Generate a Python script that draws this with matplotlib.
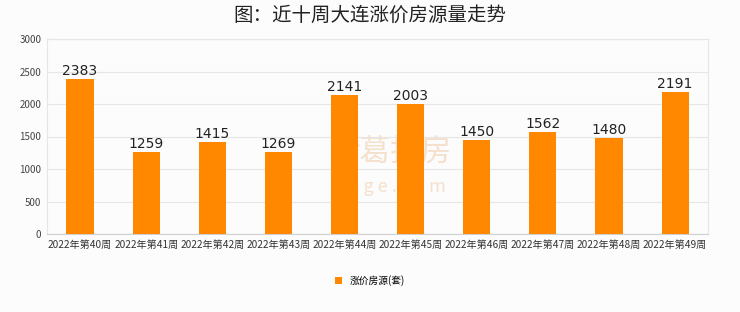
import matplotlib.pyplot as plt
import numpy as np

plt.rcParams['font.family'] = ['Noto Sans CJK SC', 'DejaVu Sans']

weeks = [f"2022年第{w}周" for w in range(40, 50)]
counts = [2383, 1259, 1415, 1269, 2141, 2003, 1450, 1562, 1480, 2191]
yticks = [0, 500, 1000, 1500, 2000, 2500, 3000]

bg = "#fcfcfc"
fig = plt.figure(figsize=(7.4, 3.12), dpi=100, facecolor=bg)
ax = fig.add_axes([0.0635, 0.25, 0.8935, 0.625], facecolor=bg)

x = np.arange(len(weeks))
ax.bar(x, counts, width=0.41, color="#ff8800", label="涨价房源(套)", zorder=3)
for xi, v in zip(x, counts):
    ax.text(xi, v + 15, str(v), ha="center", va="bottom", fontsize=10,
            color="#222222", family=["DejaVu Sans"], zorder=4)

ax.set_xlim(-0.5, len(weeks) - 0.5)
ax.set_ylim(0, 3000)
ax.set_yticks(yticks)
ax.set_yticklabels([str(t) for t in yticks], fontsize=7, color="#444444")
ax.set_xticks(x)
ax.set_xticklabels(weeks, fontsize=7.3, color="#333333")
ax.tick_params(length=0, pad=4)
ax.grid(axis="y", color="#e6e6e6", linewidth=0.8, zorder=0)
for s in ["top", "right", "left"]:
    ax.spines[s].set_color("#e6e6e6")
ax.spines["bottom"].set_color("#d0d0d0")

# faint watermark behind the bars
ax.text(0.52, 0.42, "诸葛找房", transform=ax.transAxes, ha="center", va="center",
        fontsize=22, color="#f5e0cc", zorder=1)
ax.text(0.52, 0.24, "z u g e . c o m", transform=ax.transAxes, ha="center",
        va="center", fontsize=13, color="#f5e0cc", zorder=1)

fig.text(0.5, 0.952, "图：近十周大连涨价房源量走势", ha="center", va="center",
         fontsize=14, fontweight="medium", color="#222222")

fig.legend(loc="center", bbox_to_anchor=(0.5, 0.10), frameon=False, fontsize=7,
           handlelength=0.8, handleheight=0.8)

fig.savefig("out.png", dpi=100, facecolor=bg)
